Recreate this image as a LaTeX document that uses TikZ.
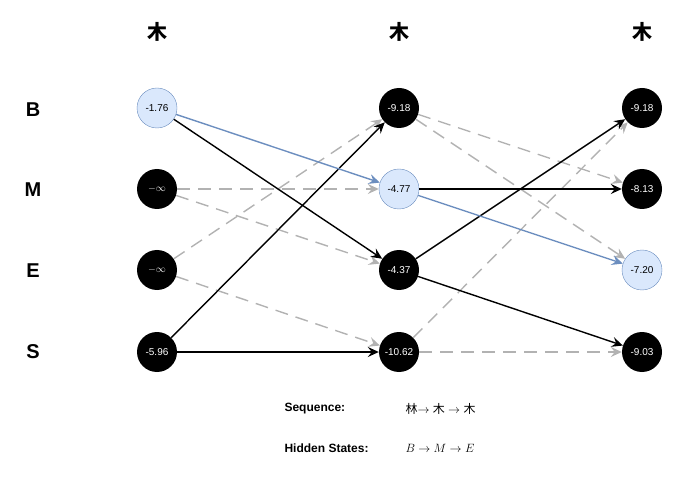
\documentclass[tikz,border=0pt]{standalone}
\usepackage{fontspec}
\setmainfont{Liberation Sans}
\newfontfamily\cjk{Noto Sans CJK SC}
\usetikzlibrary{arrows.meta}
\definecolor{lblue}{HTML}{DAE8FC}
\definecolor{eblue}{HTML}{6C8EBF}
\begin{document}
\begin{tikzpicture}[x=1pt,y=-1pt,
  st/.style={circle,minimum size=40pt,inner sep=0pt,fill=black,text=white,font=\fontsize{10}{12}\selectfont},
  hl/.style={st,fill=lblue,draw=eblue,text=black},
  ar/.style={-{Stealth[length=11pt,width=10pt,inset=4pt]},line width=1.4pt},
  blk/.style={ar,black},
  blu/.style={ar,eblue},
  gr/.style={ar,gray!60,dash pattern=on 13pt off 8pt},
  lab/.style={font=\fontsize{20}{24}\selectfont\bfseries}]
\useasboundingbox (0,0) rectangle (691,481);
\foreach \n/\x in {t1/157,t2/399,t3/642} \node[lab,font=\cjk\fontsize{20}{24}\selectfont\bfseries] (\n) at (\x,32) {\ifx\n t1 林\else 木\fi};
\node[lab] (lB) at (33,110) {B};
\node[lab] (lM) at (33,190) {M};
\node[lab] (lE) at (33,271) {E};
\node[lab] (lS) at (33,352) {S};
\node[hl] (a1) at (157,108) {-1.76};
\node[st] (a2) at (157,189) {$-\infty$};
\node[st] (a3) at (157,270) {$-\infty$};
\node[st] (a4) at (157,352) {-5.96};
\node[st] (b1) at (399,108) {-9.18};
\node[hl] (b2) at (399,189) {-4.77};
\node[st] (b3) at (399,270) {-4.37};
\node[st] (b4) at (399,352) {-10.62};
\node[st] (c1) at (642,108) {-9.18};
\node[st] (c2) at (642,189) {-8.13};
\node[hl] (c3) at (642,270) {-7.20};
\node[st] (c4) at (642,352) {-9.03};
\draw[gr] (a2) -- (b2);
\draw[gr] (a2) -- (b3);
\draw[gr] (a3) -- (b1);
\draw[gr] (a3) -- (b4);
\draw[gr] (b1) -- (c2);
\draw[gr] (b1) -- (c3);
\draw[gr] (b4) -- (c1);
\draw[gr] (b4) -- (c4);
\draw[blk] (a1) -- (b3);
\draw[blk] (a4) -- (b1);
\draw[blk] (a4) -- (b4);
\draw[blu] (a1) -- (b2);
\draw[blk] (b2) -- (c2);
\draw[blk] (b3) -- (c1);
\draw[blk] (b3) -- (c4);
\draw[blu] (b2) -- (c3);
\node[anchor=west,font=\fontsize{12}{14}\selectfont\bfseries] (s1) at (281,409) {Sequence:};
\node[anchor=west,font=\fontsize{12}{14}\selectfont] (s2) at (402,409) {{\cjk 林}$\rightarrow$ {\cjk 木} $\rightarrow$ {\cjk 木}};
\node[anchor=west,font=\fontsize{12}{14}\selectfont\bfseries] (h1) at (281,448) {Hidden States:};
\node[anchor=west,font=\fontsize{13}{14}\selectfont] (h2) at (402,448) {$B \rightarrow M \rightarrow E$};
\end{tikzpicture}
\end{document}
